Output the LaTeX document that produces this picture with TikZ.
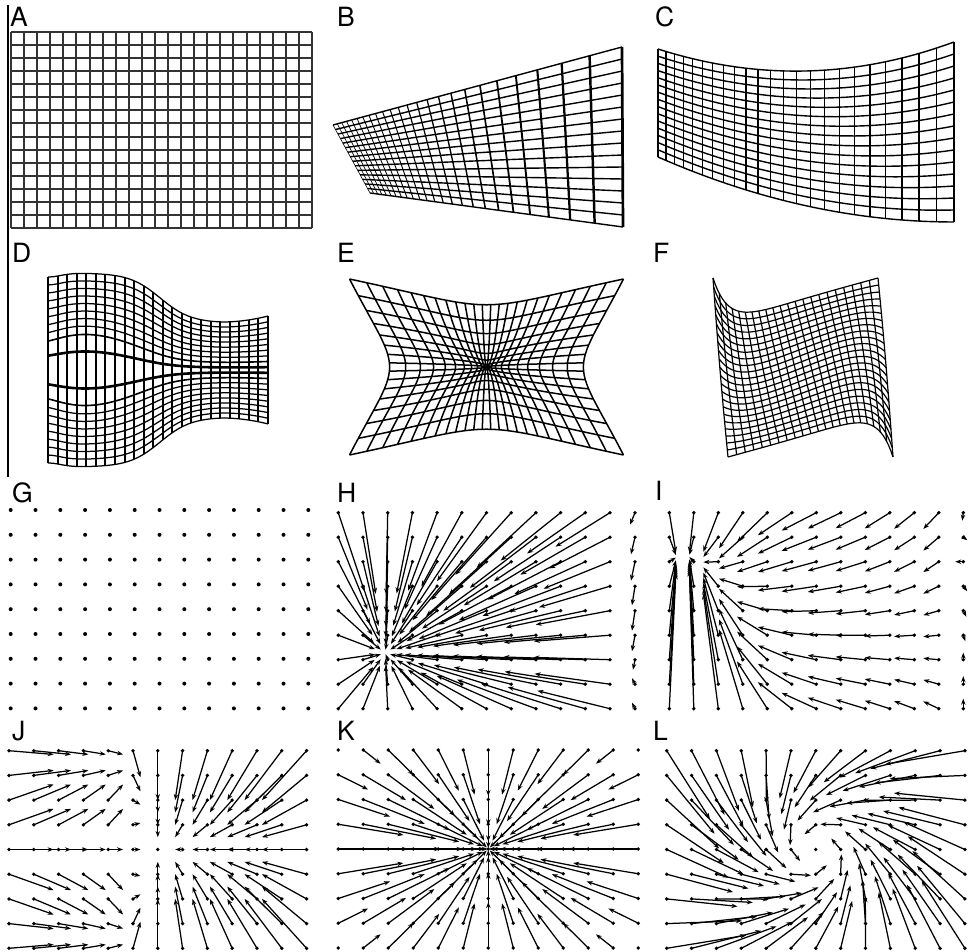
\documentclass[tikz,border=0pt]{standalone}
\usepackage{fontspec}
\setmainfont{TeX Gyre Heros}
\usetikzlibrary{arrows.meta}

\begin{document}
\begin{tikzpicture}[x=1pt,y=-1pt,
    gridline/.style={line width=#1,line join=round},
    gridline/.default=1.3pt,
    vec/.style={line width=1.25pt,-{Stealth[length=6pt,width=4.4pt]}},
    lbl/.style={anchor=base west,inner sep=0pt,font=\fontsize{26.5}{26.5}\selectfont},
    declare function={
      cT(\q)=49+95*\q-102*\q*\q;
      cB(\q)=157+130*\q-65*\q*\q;
      dh(\q)=47+50/(1+exp(min(9,(\q-0.51)/0.07)))+110*max(0,\q-0.75)*max(0,\q-0.75)-4*exp(max(-9,-(\q/0.08)*(\q/0.08)));
      da(\q)=0.26*exp(max(-9,-((\q-0.17)/0.3)*((\q-0.17)/0.3)));
      dp(\p,\q)=(1-da(\q))*\p+da(\q)*tanh(max(-4,min(4,\p/0.078)));
      er(\p,\q)=sqrt(\p*\p+\q*\q)/1.4142;
      fT(\q)=278+52*(1-exp(max(-9,-\q/0.12)))*(1-\q);
      fB(\q)=457-52*(1-exp(max(-9,-(1-\q)/0.12)))*\q;
      fx(\p,\q)=713+165*\p+15*\q+16*(\q-0.5)*sin(180*\p);
      fy(\p,\q)=(1-\q)*fT(\p)+\q*fB(\p)-16*(\p-0.5)*sin(180*\q);
    }]

  \useasboundingbox (0,0) rectangle (970,952);

  % left rule
  \draw[line width=1.2pt] (8,5) -- (8,477);

  % ── A: plain grid ─────────────────────────────
  \node[lbl] (la) at (10,27) {A};
  \foreach \i in {0,...,23}
    \draw[gridline=1.7pt,black!80] ({round(11+301*\i/23)},32) -- ({round(11+301*\i/23)},228);
  \foreach \j in {0,...,15}
    \draw[gridline=1.7pt,black!80] (11,{round(32+196*\j/15)}) -- (312,{round(32+196*\j/15)});

  % ── B: perspective ────────────────────────────
  \node[lbl] (lb) at (337,27) {B};
  \foreach \i in {0,...,24}{
    \pgfmathsetmacro\sv{(\i/24)/(2.9-1.9*\i/24)}
    \pgfmathsetmacro\lw{0.6+2.1*\sv}
    \draw[gridline=\lw pt] ({333+289*\sv},{125-78*\sv}) -- ({370+253*\sv},{193+34*\sv});
  }
  \foreach \j in {0,...,15}
    \draw[gridline=1.4pt] ({333+37*\j/15},{125+68*\j/15}) -- ({622+\j/15},{47+180*\j/15});

  % ── C: bend ───────────────────────────────────
  \node[lbl] (lc) at (655,27) {C};
  \foreach \i in {0,...,23}{
    \pgfmathsetmacro\sv{0.606*\i/23+0.394*(\i/23)*(\i/23)}
    \draw[gridline=1.4pt] ({658+296*\sv},{cT(\sv)}) -- ({658+296*\sv},{cB(\sv)});
  }
  \foreach \j in {0,...,15}
    \draw[gridline=1.4pt] plot[domain=0:1,samples=31,variable=\t]
      ({658+296*\t},{cT(\t)+\j/15*(cB(\t)-cT(\t))});

  % ── D: lens ───────────────────────────────────
  \node[lbl] (ld) at (12,263) {D};
  \foreach \j in {0,...,19}{
    \pgfmathsetmacro\ww{-1+2*\j/19}
    \pgfmathsetmacro\lw{(\j==9||\j==10) ? 2.6 : ((\j==8||\j==11) ? 1.6 : 1.25)}
    \draw[gridline=\lw pt] plot[domain=0:1,samples=45,variable=\t]
      ({48+220*\t},{370+dh(\t)*dp(\ww,\t)});
  }
  \foreach \i in {0,...,23}{
    \pgfmathsetmacro\uu{\i/23}
    \pgfmathsetmacro\xx{round(48+220*\uu)}
    \draw[gridline=1.4pt] (\xx,{370-dh(\uu)}) -- (\xx,{370+dh(\uu)});
  }

  % ── E: pinch ──────────────────────────────────
  \node[lbl] (le) at (337,263) {E};
  \foreach \i in {0,...,23}{
    \pgfmathsetmacro\ww{-1+2*\i/23}
    \draw[gridline=1.5pt] plot[domain=-1:1,samples=31,variable=\t]
      ({486.5+137*\ww*er(\ww,\t)},{367+88*\t*er(\ww,\t)});
  }
  \foreach \j in {0,...,15}{
    \pgfmathsetmacro\ww{-1+2*\j/15}
    \draw[gridline=1.5pt] plot[domain=-1:1,samples=41,variable=\t]
      ({486.5+137*\t*er(\t,\ww)},{367+88*\ww*er(\t,\ww)});
  }

  % ── F: twist ──────────────────────────────────
  \node[lbl] (lf) at (653,263) {F};
  \foreach \i in {0,...,22}{
    \pgfmathsetmacro\uu{\i/22}
    \draw[gridline=1.2pt] plot[domain=0:1,samples=25,variable=\t]
      ({fx(\uu,\t)},{fy(\uu,\t)});
  }
  \foreach \j in {0,...,22}{
    \pgfmathsetmacro\vv{\j/22}
    \draw[gridline=1.2pt] plot[domain=0:1,samples=61,variable=\t]
      ({fx(\t,\vv)},{fy(\t,\vv)});
  }

  % ── G: zero field ─────────────────────────────
  \node[lbl] (lg) at (12,502) {G};
  \foreach \i in {0,...,12}
    \foreach \j in {0,...,8}
      \fill ({10.7+24.8*\i},{510+24.8*\j}) circle[radius=2pt];

  % ── H: sink, lower left ───────────────────────
  \node[lbl] (lh) at (337,502) {H};
  \foreach \i in {0,...,11}{
    \foreach \j in {0,...,8}{
      \pgfmathsetmacro\px{338.3+24.7*\i}
      \pgfmathsetmacro\py{512.7+24.5*\j}
      \pgfmathsetmacro\ex{385-\px}
      \pgfmathsetmacro\ey{653-\py}
      \pgfmathsetmacro\fa{0.82*exp(max(-9,-(\ex/240)*(\ex/240)-(\ey/240)*(\ey/240)))}
      \draw[vec] (\px,\py) -- ++({\fa*\ex},{\fa*\ey});
      \fill (\px,\py) circle[radius=1.9pt];
    }
  }
  \foreach \j/\ex/\ey in {0/-5/12,1/-4/17,2/-4/19,3/-3/19,4/-3/20,5/-3/16,6/-2/10,7/-3/-6,8/-3/-6}{
    \draw[vec] (635,{512.7+24.5*\j}) -- ++(\ex,\ey);
    \fill (635,{512.7+24.5*\j}) circle[radius=1.9pt];
  }

  % ── I: sink, upper left ───────────────────────
  \node[lbl] (li) at (655,500) {I};
  \foreach \i in {0,...,11}{
    \foreach \j in {0,...,8}{
      \pgfmathsetmacro\px{669.3+24.5*\i}
      \pgfmathsetmacro\py{512.7+24.5*\j}
      \pgfmathsetmacro\ex{684-\px}
      \pgfmathsetmacro\gx{0.45*exp(max(-9,-(\ex/180)*(\ex/180)))}
      \pgfmathsetmacro\ty{556+94*(1-exp(max(-9,-(\ex/130)*(\ex/130))))}
      \pgfmathsetmacro\kk{0.12+0.8*exp(max(-9,-(\ex/80)*(\ex/80)))}
      \pgfmathsetmacro\dxx{\gx*\ex}
      \pgfmathsetmacro\dyy{\kk*(\ty-\py)}
      \pgfmathsetmacro\len{veclen(\dxx,\dyy)}
      \ifdim\len pt>1.5pt \draw[vec] (\px,\py) -- ++(\dxx,\dyy);\fi
      \fill (\px,\py) circle[radius=1.9pt];
    }
  }
  \foreach \j/\ex/\ey in {0/-1/8,1/4/3,2/-8/0,3/4/5,4/3/6,5/2/6,6/0/-7,7/0/-8,8/0/-10}{
    \draw[vec] (963.3,{512.7+24.5*\j}) -- ++(\ex,\ey);
    \fill (963.3,{512.7+24.5*\j}) circle[radius=1.9pt];
  }

  % ── J: lens field ─────────────────────────────
  \node[lbl] (lj) at (12,740) {J};
  \foreach \i in {0,...,12}{
    \foreach \j in {0,...,8}{
      \pgfmathsetmacro\px{9+24.8*\i}
      \pgfmathsetmacro\py{750.7+24.7*\j}
      \pgfmathsetmacro\ex{-0.3*(\px-157.8)}
      \pgfmathsetmacro\yy{(\py-849.5)/99}
      \pgfmathsetmacro\lens{87*\yy*(exp(-(\yy/0.55)*(\yy/0.55))-0.08)}
      \pgfmathsetmacro\conv{-0.5*(\py-849.5)}
      \pgfmathsetmacro\ey{\i<5 ? \lens : (\i==5 ? 0.5*(\lens+\conv) : \conv)}
      \pgfmathsetmacro\len{veclen(\ex,\ey)}
      \ifdim\len pt>1.5pt \draw[vec] (\px,\py) -- ++(\ex,\ey);\fi
      \fill (\px,\py) circle[radius=1.9pt];
    }
  }

  % ── K: converging field ───────────────────────
  \node[lbl] (lk) at (337,740) {K};
  \foreach \i in {0,...,12}{
    \foreach \j in {0,...,8}{
      \pgfmathsetmacro\px{338.3+25*\i}
      \pgfmathsetmacro\py{750+24.75*\j}
      \pgfmathsetmacro\rr{er((\px-488.3)/150,(\py-849)/99)}
      \pgfmathsetmacro\fa{1-(\rr+0.0001)^1.8}
      \pgfmathsetmacro\ex{-\fa*(\px-488.3)}
      \pgfmathsetmacro\ey{-\fa*(\py-849)}
      \pgfmathsetmacro\len{veclen(\ex,\ey)}
      \ifdim\len pt>1.5pt \draw[vec] (\px,\py) -- ++(\ex,\ey);\fi
      \fill (\px,\py) circle[radius=1.9pt];
    }
  }

  % ── L: spiral field ───────────────────────────
  \node[lbl] (ll) at (653,740) {L};
  \foreach \i in {0,...,12}{
    \foreach \j in {0,...,8}{
      \pgfmathsetmacro\px{666.7+24.85*\i}
      \pgfmathsetmacro\py{750.7+24.7*\j}
      \pgfmathsetmacro\vx{(816-\px)/100}
      \pgfmathsetmacro\vy{(850-\py)/100}
      \pgfmathsetmacro\rr{sqrt(\vx*\vx+\vy*\vy)}
      \pgfmathsetmacro\ph{24+30*exp(max(-9,-(\rr/0.7)*(\rr/0.7)))}
      \pgfmathsetmacro\fa{45+15*exp(max(-9,-(\rr/0.8)*(\rr/0.8)))}
      \pgfmathsetmacro\ex{\fa*(\vx*cos(\ph)-\vy*sin(\ph))}
      \pgfmathsetmacro\ey{\fa*(\vx*sin(\ph)+\vy*cos(\ph))}
      \pgfmathsetmacro\len{veclen(\ex,\ey)}
      \ifdim\len pt>1.5pt \draw[vec] (\px,\py) -- ++(\ex,\ey);\fi
      \fill (\px,\py) circle[radius=1.9pt];
    }
  }

\end{tikzpicture}
\end{document}
